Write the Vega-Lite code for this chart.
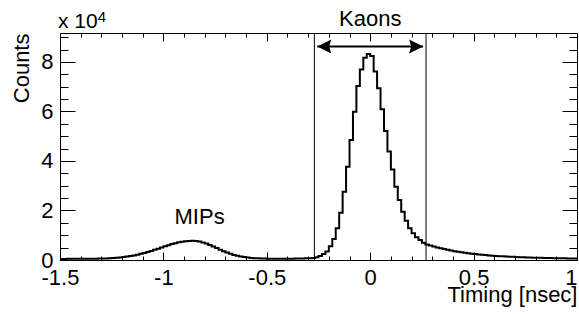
{
  "$schema": "https://vega.github.io/schema/vega-lite/v6.json",
  "width": 517,
  "height": 227,
  "autosize": {"type": "none"},
  "padding": {"left": 60, "top": 33, "right": 2, "bottom": 54},
  "background": "white",
  "config": {
    "view": {"stroke": null},
    "font": "Liberation Sans",
    "axis": {"grid": false, "domainColor": "black", "domainWidth": 1, "tickColor": "black", "tickWidth": 1, "labelColor": "black", "titleColor": "black", "labelFont": "Liberation Sans", "titleFont": "Liberation Sans"}
  },
  "datasets": {
    "hist": [
      {"t": -1.5, "n": 450}, {"t": -1.4833, "n": 450}, {"t": -1.4667, "n": 460}, {"t": -1.45, "n": 460},
      {"t": -1.4333, "n": 460}, {"t": -1.4167, "n": 460}, {"t": -1.4, "n": 470}, {"t": -1.3833, "n": 480},
      {"t": -1.3667, "n": 490}, {"t": -1.35, "n": 510}, {"t": -1.3333, "n": 530}, {"t": -1.3167, "n": 560},
      {"t": -1.3, "n": 600}, {"t": -1.2833, "n": 650}, {"t": -1.2667, "n": 720}, {"t": -1.25, "n": 800},
      {"t": -1.2333, "n": 910}, {"t": -1.2167, "n": 1030}, {"t": -1.2, "n": 1190}, {"t": -1.1833, "n": 1370},
      {"t": -1.1667, "n": 1600}, {"t": -1.15, "n": 1850}, {"t": -1.1333, "n": 2140}, {"t": -1.1167, "n": 2480},
      {"t": -1.1, "n": 2840}, {"t": -1.0833, "n": 3240}, {"t": -1.0667, "n": 3670}, {"t": -1.05, "n": 4120},
      {"t": -1.0333, "n": 4590}, {"t": -1.0167, "n": 5060}, {"t": -1, "n": 5530}, {"t": -0.9833, "n": 5990},
      {"t": -0.9667, "n": 6420}, {"t": -0.95, "n": 6800}, {"t": -0.9333, "n": 7140}, {"t": -0.9167, "n": 7410},
      {"t": -0.9, "n": 7600}, {"t": -0.8833, "n": 7720}, {"t": -0.8667, "n": 7800}, {"t": -0.85, "n": 7710},
      {"t": -0.8333, "n": 7470}, {"t": -0.8167, "n": 7100}, {"t": -0.8, "n": 6620}, {"t": -0.7833, "n": 6060},
      {"t": -0.7667, "n": 5440}, {"t": -0.75, "n": 4800}, {"t": -0.7333, "n": 4160}, {"t": -0.7167, "n": 3560},
      {"t": -0.7, "n": 3000}, {"t": -0.6833, "n": 2500}, {"t": -0.6667, "n": 2070}, {"t": -0.65, "n": 1700},
      {"t": -0.6333, "n": 1400}, {"t": -0.6167, "n": 1170}, {"t": -0.6, "n": 980}, {"t": -0.5833, "n": 840},
      {"t": -0.5667, "n": 730}, {"t": -0.55, "n": 660}, {"t": -0.5333, "n": 610}, {"t": -0.5167, "n": 570},
      {"t": -0.5, "n": 540}, {"t": -0.4833, "n": 530}, {"t": -0.4667, "n": 520}, {"t": -0.45, "n": 520},
      {"t": -0.4333, "n": 520}, {"t": -0.4167, "n": 530}, {"t": -0.4, "n": 540}, {"t": -0.3833, "n": 550},
      {"t": -0.3667, "n": 570}, {"t": -0.35, "n": 590}, {"t": -0.3333, "n": 620}, {"t": -0.3167, "n": 670},
      {"t": -0.3, "n": 750}, {"t": -0.2833, "n": 850}, {"t": -0.2667, "n": 1100}, {"t": -0.25, "n": 1600},
      {"t": -0.2333, "n": 2400}, {"t": -0.2167, "n": 3400}, {"t": -0.2, "n": 5600}, {"t": -0.1833, "n": 8500},
      {"t": -0.1667, "n": 12800}, {"t": -0.15, "n": 19100}, {"t": -0.1333, "n": 27600}, {"t": -0.1167, "n": 37700},
      {"t": -0.1, "n": 48500}, {"t": -0.0833, "n": 59900}, {"t": -0.0667, "n": 70300}, {"t": -0.05, "n": 77000},
      {"t": -0.0333, "n": 81700}, {"t": -0.0167, "n": 83200}, {"t": 0, "n": 82400}, {"t": 0.0167, "n": 76100},
      {"t": 0.0333, "n": 69400}, {"t": 0.05, "n": 60900}, {"t": 0.0667, "n": 52100}, {"t": 0.0833, "n": 43800},
      {"t": 0.1, "n": 36600}, {"t": 0.1167, "n": 29600}, {"t": 0.1333, "n": 24200}, {"t": 0.15, "n": 19500},
      {"t": 0.1667, "n": 15900}, {"t": 0.1833, "n": 12800}, {"t": 0.2, "n": 10800}, {"t": 0.2167, "n": 9200},
      {"t": 0.2333, "n": 8100}, {"t": 0.25, "n": 7000}, {"t": 0.2667, "n": 6300}, {"t": 0.2833, "n": 5900},
      {"t": 0.3, "n": 5500}, {"t": 0.3167, "n": 5100}, {"t": 0.3333, "n": 4700}, {"t": 0.35, "n": 4400},
      {"t": 0.3667, "n": 4100}, {"t": 0.3833, "n": 3800}, {"t": 0.4, "n": 3500}, {"t": 0.4167, "n": 3300},
      {"t": 0.4333, "n": 3100}, {"t": 0.45, "n": 2900}, {"t": 0.4667, "n": 2700}, {"t": 0.4833, "n": 2550},
      {"t": 0.5, "n": 2400}, {"t": 0.5167, "n": 2250}, {"t": 0.5333, "n": 2100}, {"t": 0.55, "n": 2000},
      {"t": 0.5667, "n": 1850}, {"t": 0.5833, "n": 1700}, {"t": 0.6, "n": 1600}, {"t": 0.6167, "n": 1530},
      {"t": 0.6333, "n": 1470}, {"t": 0.65, "n": 1400}, {"t": 0.6667, "n": 1330}, {"t": 0.6833, "n": 1270},
      {"t": 0.7, "n": 1200}, {"t": 0.7167, "n": 1150}, {"t": 0.7333, "n": 1100}, {"t": 0.75, "n": 1050},
      {"t": 0.7667, "n": 1000}, {"t": 0.7833, "n": 950}, {"t": 0.8, "n": 900}, {"t": 0.8167, "n": 870},
      {"t": 0.8333, "n": 830}, {"t": 0.85, "n": 800}, {"t": 0.8667, "n": 770}, {"t": 0.8833, "n": 730},
      {"t": 0.9, "n": 700}, {"t": 0.9167, "n": 680}, {"t": 0.9333, "n": 660}, {"t": 0.95, "n": 650},
      {"t": 0.9667, "n": 620}, {"t": 0.9833, "n": 600}, {"t": 1, "n": 600}
    ],
    "cuts": [{"t": -0.27}, {"t": 0.27}],
    "arrow": [{"t": -0.256, "n": 86200, "dir": "left"}, {"t": 0.256, "n": 86200, "dir": "right"}],
    "notes": [
      {"t": -0.825, "n": 14540, "text": "MIPs"},
      {"t": 0, "n": 94530, "text": "Kaons"}
    ],
    "mult": [{"t": -1.51, "n": 93700, "text": "x 10"}],
    "expo": [{"t": -1.318, "n": 96140, "text": "4"}]
  },
  "layer": [
    {
      "data": {"name": "hist"},
      "mark": {"type": "line", "interpolate": "step-after", "stroke": "black", "strokeWidth": 2},
      "encoding": {
        "x": {
          "field": "t", "type": "quantitative",
          "scale": {"domain": [-1.5, 1], "nice": false, "zero": false},
          "axis": {
            "orient": "bottom",
            "values": [-1.5, -1.4, -1.3, -1.2, -1.1, -1, -0.9, -0.8, -0.7, -0.6, -0.5, -0.4, -0.3, -0.2, -0.1, 0, 0.1, 0.2, 0.3, 0.4, 0.5, 0.6, 0.7, 0.8, 0.9, 1],
            "tickSize": {"condition": {"test": "abs(datum.value*2 - round(datum.value*2)) < 1e-6", "value": -8}, "value": -4},
            "labelExpr": "abs(datum.value*2 - round(datum.value*2)) < 1e-6 ? '' + datum.value : ''",
            "labelAlign": {"condition": {"test": "datum.value === 1", "value": "right"}, "value": "center"},
            "labelPadding": 15,
            "labelFontSize": 22,
            "labelFlush": false,
            "labelOverlap": false,
            "labelBound": false,
            "title": "Timing [nsec]",
            "titleFontSize": 22,
            "titleFontWeight": "normal",
            "titleAnchor": "end",
            "titleAlign": "right",
            "titleBaseline": "alphabetic",
            "titleX": 517,
            "titleY": 41
          }
        },
        "y": {
          "field": "n", "type": "quantitative",
          "scale": {"domain": [0, 91700], "nice": false},
          "axis": {
            "orient": "left",
            "values": [0, 5000, 10000, 15000, 20000, 25000, 30000, 35000, 40000, 45000, 50000, 55000, 60000, 65000, 70000, 75000, 80000, 85000, 90000],
            "tickSize": {"condition": {"test": "datum.value % 20000 === 0", "value": -15}, "value": -8},
            "labelExpr": "datum.value % 20000 === 0 ? '' + (datum.value/10000) : ''",
            "labelPadding": 22,
            "labelFontSize": 22,
            "labelBaseline": "middle",
            "labelFlush": false,
            "labelOverlap": false,
            "labelBound": false,
            "title": "Counts",
            "titleFontSize": 22,
            "titleFontWeight": "normal",
            "titleAngle": -90,
            "titleAlign": "right",
            "titleBaseline": "alphabetic",
            "titleX": -32,
            "titleY": 0
          }
        }
      }
    },
    {
      "data": {"name": "arrow"},
      "mark": {"type": "line", "stroke": "black", "strokeWidth": 2},
      "encoding": {
        "x": {
          "field": "t", "type": "quantitative",
          "scale": {"domain": [-1.5, 1], "nice": false, "zero": false},
          "axis": {
            "orient": "top",
            "values": [-1.5, -1.4, -1.3, -1.2, -1.1, -1, -0.9, -0.8, -0.7, -0.6, -0.5, -0.4, -0.3, -0.2, -0.1, 0, 0.1, 0.2, 0.3, 0.4, 0.5, 0.6, 0.7, 0.8, 0.9, 1],
            "tickSize": {"condition": {"test": "abs(datum.value*2 - round(datum.value*2)) < 1e-6", "value": -8}, "value": -4},
            "labels": false,
            "title": null
          }
        },
        "y": {
          "field": "n", "type": "quantitative",
          "scale": {"domain": [0, 91700], "nice": false},
          "axis": {
            "orient": "right",
            "values": [0, 5000, 10000, 15000, 20000, 25000, 30000, 35000, 40000, 45000, 50000, 55000, 60000, 65000, 70000, 75000, 80000, 85000, 90000],
            "tickSize": {"condition": {"test": "datum.value % 20000 === 0", "value": -15}, "value": -8},
            "labels": false,
            "title": null
          }
        }
      }
    },
    {
      "data": {"name": "arrow"},
      "mark": {"type": "point", "filled": true, "fill": "black", "strokeWidth": 0, "size": 196, "opacity": 1},
      "encoding": {
        "x": {"field": "t", "type": "quantitative", "scale": {"domain": [-1.5, 1], "nice": false, "zero": false}, "axis": null},
        "y": {"field": "n", "type": "quantitative", "scale": {"domain": [0, 91700], "nice": false}, "axis": null},
        "shape": {"field": "dir", "type": "nominal", "scale": {"domain": ["left", "right"], "range": ["M 0 0 L 2 -1 L 1.7 0 L 2 1 Z", "M 0 0 L -2 -1 L -1.7 0 L -2 1 Z"]}, "legend": null}
      }
    },
    {
      "data": {"name": "cuts"},
      "mark": {"type": "rule", "stroke": "black", "strokeWidth": 1},
      "encoding": {
        "x": {"field": "t", "type": "quantitative", "scale": {"domain": [-1.5, 1], "nice": false, "zero": false}, "axis": null}
      }
    },
    {
      "data": {"name": "notes"},
      "mark": {"type": "text", "font": "Liberation Sans", "fontSize": 22, "align": "center", "baseline": "alphabetic", "fill": "black"},
      "encoding": {
        "x": {"field": "t", "type": "quantitative", "scale": {"domain": [-1.5, 1], "nice": false, "zero": false}, "axis": null},
        "y": {"field": "n", "type": "quantitative", "scale": {"domain": [0, 91700], "nice": false}, "axis": null},
        "text": {"field": "text"}
      }
    },
    {
      "data": {"name": "mult"},
      "mark": {"type": "text", "font": "Liberation Sans", "fontSize": 21, "align": "left", "baseline": "alphabetic", "fill": "black"},
      "encoding": {
        "x": {"field": "t", "type": "quantitative", "scale": {"domain": [-1.5, 1], "nice": false, "zero": false}, "axis": null},
        "y": {"field": "n", "type": "quantitative", "scale": {"domain": [0, 91700], "nice": false}, "axis": null},
        "text": {"field": "text"}
      }
    },
    {
      "data": {"name": "expo"},
      "mark": {"type": "text", "font": "Liberation Sans", "fontSize": 15, "align": "left", "baseline": "alphabetic", "fill": "black"},
      "encoding": {
        "x": {"field": "t", "type": "quantitative", "scale": {"domain": [-1.5, 1], "nice": false, "zero": false}, "axis": null},
        "y": {"field": "n", "type": "quantitative", "scale": {"domain": [0, 91700], "nice": false}, "axis": null},
        "text": {"field": "text"}
      }
    }
  ],
  "resolve": {"axis": {"x": "independent", "y": "independent"}}
}
